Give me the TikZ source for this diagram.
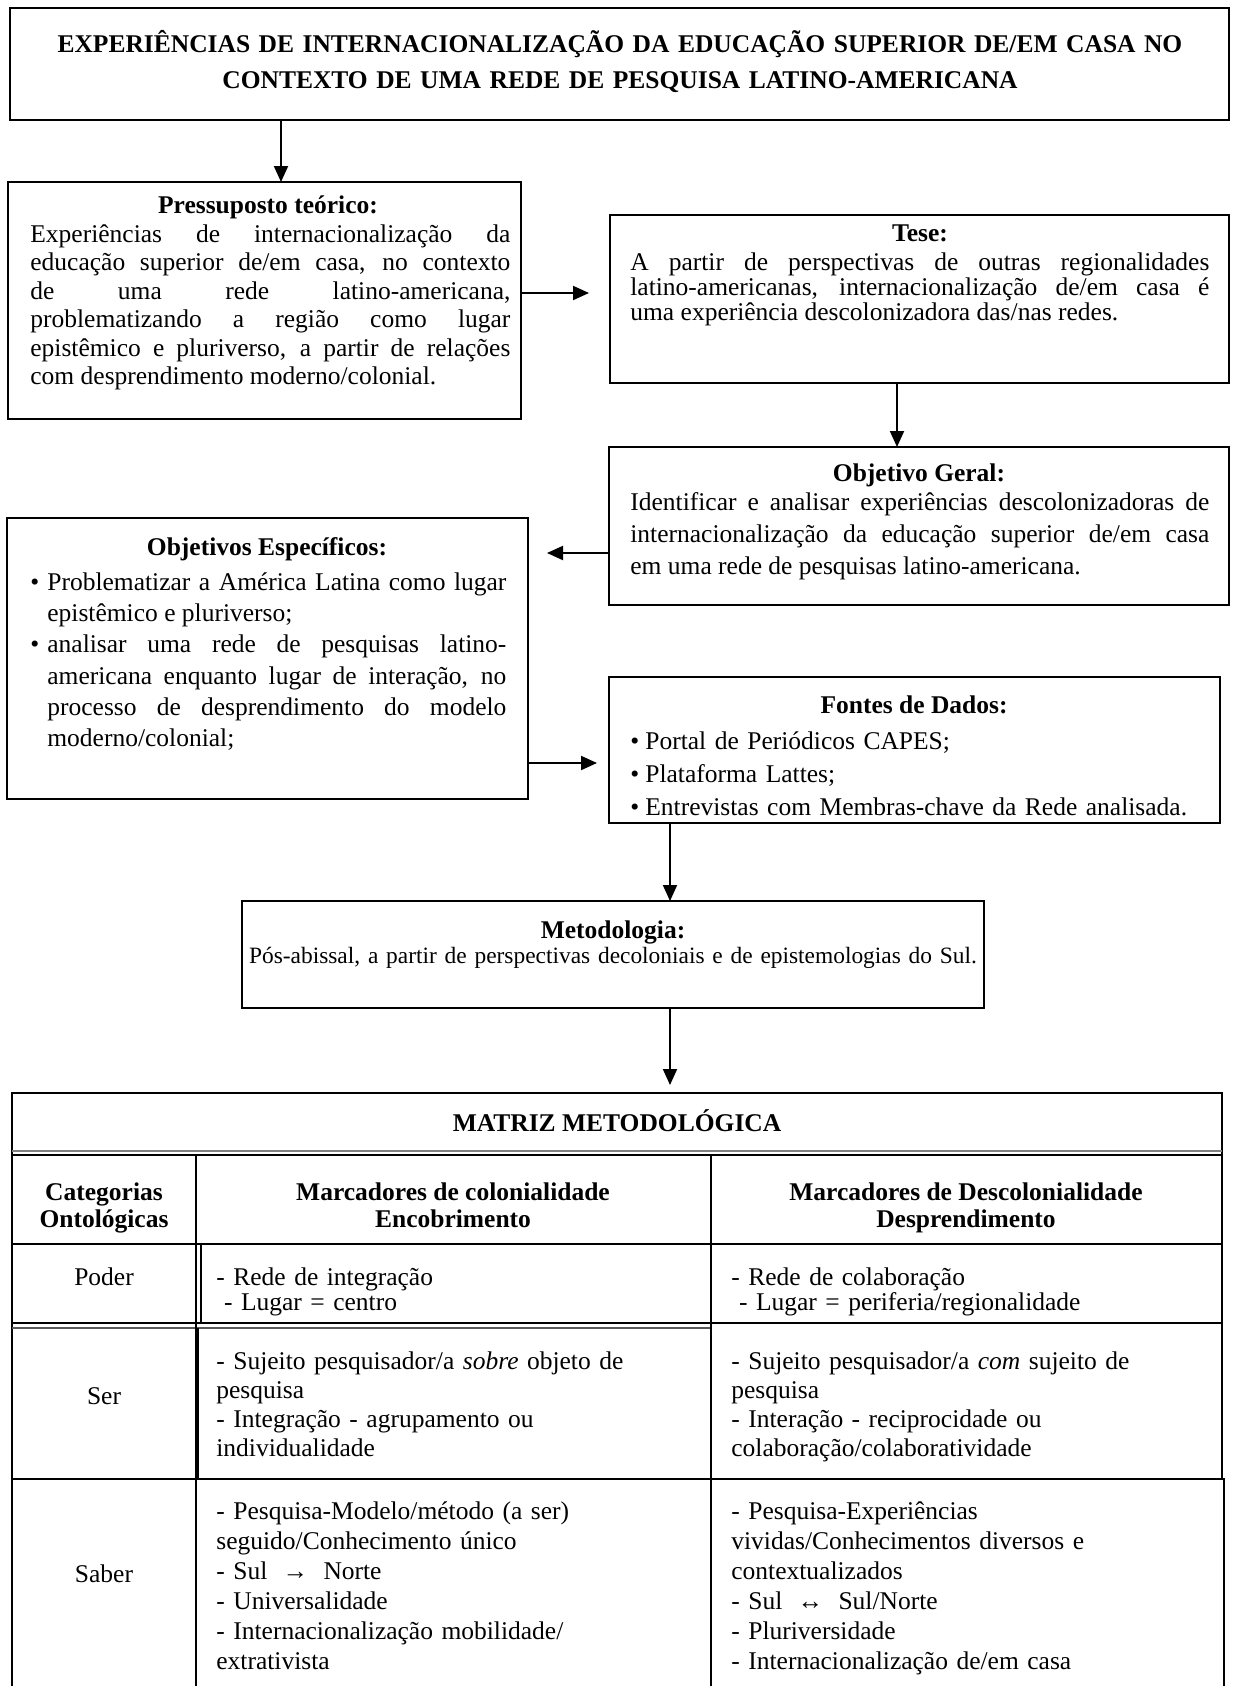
\documentclass[tikz,border=0pt]{standalone}
\usepackage{fontspec}
\setmainfont{Liberation Serif}
\usetikzlibrary{arrows.meta}
\setlength\parindent{0pt}
\newcommand\fstrut{\rule{0pt}{1em}}
\newcommand\itmA{\par\hangindent=8.5pt\hangafter=1\makebox[8.5pt][l]{\textbullet}}
\newcommand\itmB{\par\hangindent=7.5pt\hangafter=1\makebox[7.5pt][l]{\textbullet}}
\begin{document}
\begin{tikzpicture}[x=0.5pt,y=-0.5pt,
  box/.style={draw, rectangle, line width=1.1pt, inner sep=0pt, outer sep=0pt},
  arr/.style={line width=1pt, -{Triangle[length=8pt,width=7pt]}},
  hd/.style={inner sep=0pt, anchor=north, font=\bfseries\fontsize{12.75}{15}\selectfont},
  bd/.style={inner sep=0pt, anchor=north west, align=justify,
    execute at begin node={\tolerance=10000\hyphenpenalty=10000\relax}},
  cell/.style={inner sep=0pt, anchor=north west, align=left, text width=245pt},
  lab/.style={inner sep=0pt, anchor=base, font=\fontsize{12.75}{15}\selectfont},
  tl/.style={line width=1pt},
]
\useasboundingbox (0,0) rectangle (1232,1686);
\fill[white] (0,0) rectangle (1232,1686);

% ---------- boxes ----------
\node[box, minimum width=609.5pt, minimum height=56pt] (title) at (619.5,64) {};
\node[box, minimum width=256.5pt, minimum height=118.5pt] (pres) at (264.5,300.5) {};
\node[box, minimum width=309.5pt, minimum height=84pt] (tese) at (919.5,299) {};
\node[box, minimum width=310pt, minimum height=79pt] (og) at (919,526) {};
\node[box, minimum width=260.5pt, minimum height=140.5pt] (oe) at (267.5,658.5) {};
\node[box, minimum width=305.5pt, minimum height=73pt] (fontes) at (914.5,750) {};
\node[box, minimum width=371pt, minimum height=53.5pt] (metod) at (613,954.5) {};
\node[box, line width=1pt, minimum width=605pt, minimum height=31pt] (mtx) at (617,1124) {};

% ---------- texts ----------
\node[hd, text width=600pt, align=center, font=\bfseries\fontsize{12.75}{18}\selectfont] (tT) at (620,26.5)
  {\fstrut EXPERIÊNCIAS DE INTERNACIONALIZAÇÃO DA EDUCAÇÃO SUPERIOR DE/EM CASA NO\\
   CONTEXTO DE UMA REDE DE PESQUISA LATINO-AMERICANA};

\node[hd] (pT) at (268,187.5) {\fstrut Pressuposto teórico:};
\node[bd, text width=240pt, font=\fontsize{12.75}{14.25}\selectfont] (pB) at (30,216.5)
  {\fstrut Experiências de internacionalização da\linebreak
   educação superior de/em casa, no contexto\linebreak
   de uma rede latino-americana,\linebreak
   problematizando a região como lugar\linebreak
   epistêmico e pluriverso, a partir de relações\linebreak
   com desprendimento moderno/colonial.\par};

\node[hd] (tsT) at (920,215.5) {\fstrut Tese:};
\node[bd, text width=289.5pt, font=\fontsize{12.75}{12.5}\selectfont] (tsB) at (630,244.5)
  {\fstrut A partir de perspectivas de outras regionalidades\linebreak
   latino-americanas, internacionalização de/em casa é\linebreak
   uma experiência descolonizadora das/nas redes.\par};

\node[hd] (ogT) at (919,455.5) {\fstrut Objetivo Geral:};
\node[bd, text width=289.5pt, font=\fontsize{12.75}{16}\selectfont] (ogB) at (630,484.5)
  {\fstrut Identificar e analisar experiências descolonizadoras de\linebreak
   internacionalização da educação superior de/em casa\linebreak
   em uma rede de pesquisas latino-americana.\par};

\node[hd] (oeT) at (267,529.5) {\fstrut Objetivos Específicos:};
\node[bd, text width=238pt, font=\fontsize{12.75}{15.65}\selectfont] (oeB) at (30,558.5)
  {\itmA\fstrut Problematizar a América Latina como lugar\linebreak
   epistêmico e pluriverso;
   \itmA analisar uma rede de pesquisas latino-\linebreak
   americana enquanto lugar de interação, no\linebreak
   processo de desprendimento do modelo\linebreak
   moderno/colonial;\par};

\node[hd] (fT) at (914,687.5) {\fstrut Fontes de Dados:};
\node[bd, text width=285pt, align=left, font=\fontsize{12.75}{16.5}\selectfont] (fB) at (630,716.5)
  {\itmB\fstrut Portal de Periódicos CAPES;
   \itmB Plataforma Lattes;
   \itmB Entrevistas com Membras-chave da Rede analisada.\par};

\node[hd] (mT) at (613,912.5) {\fstrut Metodologia:};
\node[inner sep=0pt, anchor=north, text width=368pt, align=center, font=\fontsize{11.7}{12.5}\selectfont] (mB) at (613,939.6)
  {\fstrut Pós-abissal, a partir de perspectivas decoloniais e de epistemologias do Sul.};

% ---------- table ----------
\node[hd] (mxT) at (617,1106) {\fstrut MATRIZ METODOLÓGICA};
\draw[tl] (mtx.south west) -- (12,1690);
\draw[tl] (mtx.south east) -- (1222,1479) -- (1224,1479) -- (1224,1690);
\draw[line width=0.6pt, gray] (12,1151) -- (1222,1151);
\draw[tl] (12,1244) -- (1222,1244);
\draw[tl] (12,1323) -- (1222,1323);
\draw[line width=0.6pt, gray!70!black] (12,1328) -- (711,1328);
\draw[tl] (12,1479) -- (1224,1479);
\draw[tl] (196,1155) -- (196,1690);
\draw[line width=0.7pt] (201,1244) -- (201,1323);
\draw[line width=1.4pt] (198,1328) -- (198,1479);
\draw[tl] (711,1155) -- (711,1690);

\node[inner sep=0pt, anchor=north, align=center, font=\bfseries\fontsize{12.75}{13.5}\selectfont] (h1) at (104,1174.5)
  {\fstrut Categorias\\Ontológicas};
\node[inner sep=0pt, anchor=north, align=center, font=\bfseries\fontsize{12.75}{13.5}\selectfont] (h2) at (453,1174.5)
  {\fstrut Marcadores de colonialidade\\Encobrimento};
\node[inner sep=0pt, anchor=north, align=center, font=\bfseries\fontsize{12.75}{13.5}\selectfont] (h3) at (966,1174.5)
  {\fstrut Marcadores de Descolonialidade\\Desprendimento};

\node[lab] (r1) at (104,1285) {Poder};
\node[cell, font=\fontsize{12.75}{12.5}\selectfont] (c12) at (216,1259.5)
  {\fstrut - Rede de integração\\\hspace*{0.3em}- Lugar = centro};
\node[cell, font=\fontsize{12.75}{12.5}\selectfont] (c13) at (731,1259.5)
  {\fstrut - Rede de colaboração\\\hspace*{0.3em}- Lugar = periferia/regionalidade};

\node[lab] (r2) at (104,1404) {Ser};
\node[cell, font=\fontsize{12.75}{14.5}\selectfont] (c22) at (216,1343.5)
  {\fstrut - Sujeito pesquisador/a \textit{sobre} objeto de\\pesquisa\\- Integração - agrupamento ou\\individualidade};
\node[cell, font=\fontsize{12.75}{14.5}\selectfont] (c23) at (731,1343.5)
  {\fstrut - Sujeito pesquisador/a \textit{com} sujeito de\\pesquisa\\- Interação - reciprocidade ou\\colaboração/colaboratividade};

\node[lab] (r3) at (104,1582) {Saber};
\node[cell, font=\fontsize{12.75}{15}\selectfont] (c32) at (216,1493.5)
  {\fstrut - Pesquisa-Modelo/método (a ser)\\seguido/Conhecimento único\\- Sul\hspace{0.6em}→\hspace{0.6em}Norte\\- Universalidade\\- Internacionalização mobilidade/\\extrativista};
\node[cell, font=\fontsize{12.75}{15}\selectfont] (c33) at (731,1493.5)
  {\fstrut - Pesquisa-Experiências\\vividas/Conhecimentos diversos e\\contextualizados\\- Sul\hspace{0.6em}↔\hspace{0.6em}Sul/Norte\\- Pluriversidade\\- Internacionalização de/em casa};

% ---------- connectors ----------
\coordinate (a1) at (281,0);
\coordinate (a2) at (0,293);
\coordinate (a3) at (897,0);
\coordinate (a4) at (0,553);
\coordinate (a5) at (0,763);
\coordinate (a6) at (670,0);
\draw[arr] (title.south -| a1) -- (pres.north -| a1);
\draw[arr, shorten >=10.5pt] (pres.east |- a2) -- (tese.west |- a2);
\draw[arr] (tese.south -| a3) -- (og.north -| a3);
\draw[arr, shorten >=9.5pt] (og.west |- a4) -- (oe.east |- a4);
\draw[arr, shorten >=6pt] (oe.east |- a5) -- (fontes.west |- a5);
\draw[arr] (fontes.south -| a6) -- (metod.north -| a6);
\draw[arr, shorten >=4pt] (metod.south -| a6) -- (mtx.north -| a6);
\end{tikzpicture}
\end{document}
